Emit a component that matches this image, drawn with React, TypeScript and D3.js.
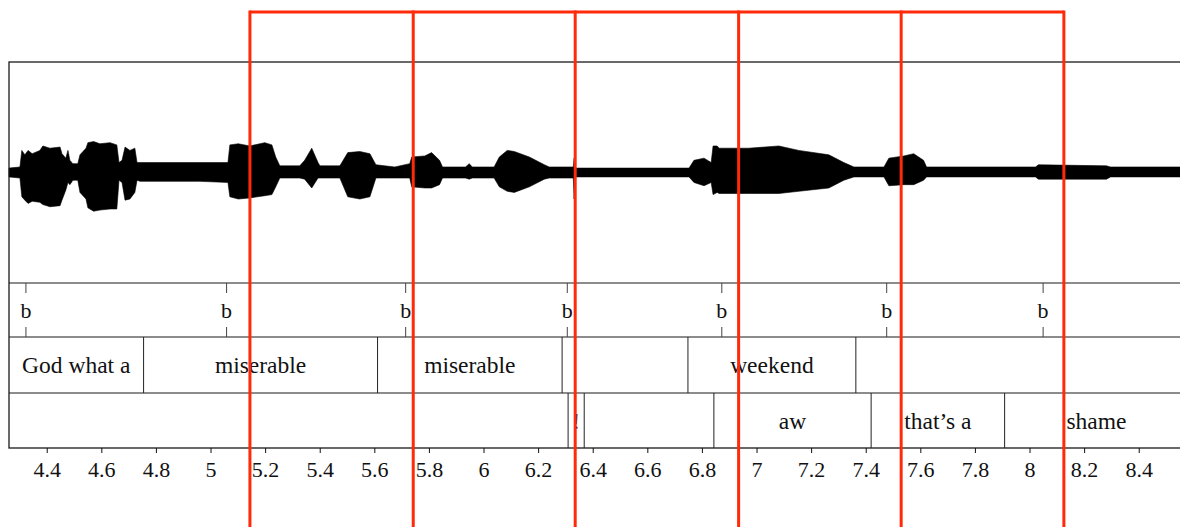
import * as d3 from 'd3';

// time range of the sound (s)
const tStart = 4.26;
const tEnd = 8.58;

// waveform envelope: time (s), upper and lower amplitude
const waveTime = [
  4.26, 4.3, 4.307, 4.318, 4.33, 4.345, 4.373, 4.384, 4.41, 4.447, 4.454, 4.468, 4.476, 4.483, 4.494, 4.512, 4.52,
  4.542, 4.549, 4.57, 4.593, 4.63, 4.655, 4.663, 4.674, 4.685, 4.703, 4.721, 4.729, 4.74, 4.959, 5.062,
  5.069, 5.1, 5.142, 5.197, 5.223, 5.237, 5.252, 5.325, 5.343, 5.369, 5.392, 5.399, 5.472, 5.501, 5.545,
  5.582, 5.604, 5.673, 5.728, 5.735, 5.783, 5.808, 5.837, 5.848, 5.932, 5.946, 5.957, 6.037, 6.056,
  6.085, 6.111, 6.166, 6.221, 6.239, 6.319, 6.327, 6.33, 6.334, 6.751, 6.769, 6.806, 6.832, 6.839,
  6.854, 6.861, 6.97, 7.08, 7.153, 7.263, 7.318, 7.355, 7.465, 7.483, 7.538, 7.574, 7.61, 7.621,
  8.02, 8.031, 8.28, 8.295, 8.58,
];
const waveUpper = [
  0.04, 0.05, 0.2, 0.16, 0.2, 0.17, 0.2, 0.24, 0.22, 0.23, 0.17, 0.13, 0.2, 0.11, 0.08, 0.08, 0.16,
  0.22, 0.27, 0.28, 0.26, 0.27, 0.25, 0.09, 0.11, 0.23, 0.2, 0.22, 0.09, 0.09, 0.09, 0.09,
  0.25, 0.26, 0.24, 0.27, 0.25, 0.14, 0.06, 0.06, 0.11, 0.22, 0.09, 0.06, 0.06, 0.18, 0.19,
  0.17, 0.07, 0.05, 0.08, 0.14, 0.15, 0.18, 0.11, 0.05, 0.05, 0.08, 0.05, 0.05, 0.14,
  0.2, 0.19, 0.14, 0.07, 0.05, 0.05, 0.05, 0.13, 0.04, 0.04, 0.11, 0.13, 0.09, 0.24,
  0.24, 0.22, 0.22, 0.24, 0.2, 0.16, 0.09, 0.05, 0.05, 0.13, 0.15, 0.17, 0.11, 0.05,
  0.05, 0.07, 0.06, 0.05, 0.05,
];
const waveLower = [
  0.04, 0.05, 0.22, 0.25, 0.28, 0.26, 0.27, 0.29, 0.31, 0.3, 0.25, 0.16, 0.09, 0.11, 0.07, 0.07, 0.18,
  0.24, 0.32, 0.35, 0.34, 0.33, 0.33, 0.07, 0.09, 0.25, 0.24, 0.18, 0.07, 0.08, 0.08, 0.09,
  0.22, 0.24, 0.23, 0.21, 0.2, 0.13, 0.05, 0.05, 0.06, 0.14, 0.05, 0.05, 0.05, 0.22, 0.24,
  0.22, 0.05, 0.05, 0.05, 0.13, 0.14, 0.14, 0.11, 0.05, 0.05, 0.06, 0.05, 0.05, 0.13,
  0.17, 0.18, 0.13, 0.06, 0.05, 0.05, 0.05, 0.24, 0.04, 0.04, 0.09, 0.12, 0.09, 0.2,
  0.18, 0.19, 0.19, 0.19, 0.17, 0.14, 0.07, 0.04, 0.04, 0.12, 0.11, 0.11, 0.07, 0.04,
  0.04, 0.06, 0.06, 0.04, 0.04,
];

// point tier
const pointTimes = [4.322, 5.057, 5.713, 6.305, 6.871, 7.475, 8.048];
const pointLabels = ['b', 'b', 'b', 'b', 'b', 'b', 'b'];

// interval tier 1 (boundaries between tStart and tEnd)
const tier1Bounds = [4.753, 5.61, 6.286, 6.747, 7.362];
const tier1Labels = ['God what a', 'miserable', 'miserable', '', 'weekend', ''];

// interval tier 2
const tier2Bounds = [6.308, 6.367, 6.842, 7.418, 7.907];
const tier2Labels = ['', '!', '', 'aw', 'that\u2019s a', 'shame'];

// red analysis windows
const windowBounds = [5.1425, 5.7407, 6.334, 6.9326, 7.528, 8.124];

const axisTicks = [4.4, 4.6, 4.8, 5, 5.2, 5.4, 5.6, 5.8, 6, 6.2, 6.4, 6.6, 6.8, 7, 7.2, 7.4, 7.6, 7.8, 8, 8.2, 8.4];

const W = 1180;
const H = 527;
const font = '"Liberation Serif", "Times New Roman", serif';

const top = 62;
const waveBottom = 283;
const tier1Top = 337;
const tier2Top = 393;
const bottom = 448;

export default function App() {
  const x = d3.scaleLinear().domain([tStart, tEnd]).range([9, 9 + (tEnd - tStart) * 273]);
  const y = d3.scaleLinear().domain([-1, 1]).range([waveBottom, top]);

  const wave = waveTime.map((t, i) => ({ t, hi: waveUpper[i], lo: -waveLower[i] }));
  const area = d3.area<{ t: number; hi: number; lo: number }>()
    .x(d => x(d.t))
    .y0(d => y(d.lo))
    .y1(d => y(d.hi));

  const intervals = (bounds: number[], labels: string[]) => {
    const edges = [tStart, ...bounds, tEnd];
    return labels.map((label, i) => ({ label, a: edges[i], b: edges[i + 1] }));
  };

  const drawTier = (bounds: number[], labels: string[], y0: number, y1: number) => (
    <g>
      {bounds.map((b, i) => (
        <line key={i} x1={x(b)} x2={x(b)} y1={y0} y2={y1} stroke="#222" strokeWidth={1} />
      ))}
      {intervals(bounds, labels).map((d, i) => (
        <text key={'t' + i} x={(x(d.a) + x(d.b)) / 2} y={(y0 + y1) / 2 + 8} textAnchor="middle"
          fontFamily={font} fontSize={23.5} fill="#111">{d.label}</text>
      ))}
    </g>
  );

  const red = '#ff2a0a';

  return (
    <svg width={W} height={H} style={{ position: 'absolute', left: 0, top: 0, background: '#fff' }}>
      {/* waveform */}
      <path d={area(wave) ?? ''} fill="#000" stroke="#000" strokeWidth={0.6} />

      {/* frame and tier separators */}
      <rect x={x(tStart)} y={top} width={x(tEnd) - x(tStart)} height={bottom - top}
        fill="none" stroke="#1a1a1a" strokeWidth={1.3} />
      {[waveBottom, tier1Top, tier2Top].map(v => (
        <line key={v} x1={x(tStart)} x2={x(tEnd)} y1={v} y2={v} stroke="#1a1a1a" strokeWidth={1.2} />
      ))}

      {/* point tier */}
      {pointTimes.map((t, i) => (
        <g key={i}>
          <line x1={x(t)} x2={x(t)} y1={waveBottom} y2={waveBottom + 10} stroke="#444" strokeWidth={1} />
          <line x1={x(t)} x2={x(t)} y1={tier1Top - 10} y2={tier1Top} stroke="#444" strokeWidth={1} />
          <text x={x(t)} y={(waveBottom + tier1Top) / 2 + 8} textAnchor="middle"
            fontFamily={font} fontSize={22} fill="#111">{pointLabels[i]}</text>
        </g>
      ))}

      {drawTier(tier1Bounds, tier1Labels, tier1Top, tier2Top)}
      {drawTier(tier2Bounds, tier2Labels, tier2Top, bottom)}

      {/* time axis */}
      <g>
        {axisTicks.map(t => (
          <g key={t} transform={`translate(${x(t)},${bottom})`}>
            <line y1={0} y2={5} stroke="#111" strokeWidth={1} />
            <text y={29} textAnchor="middle" fontFamily={font} fontSize={22} fill="#111">
              {d3.format('~g')(t)}
            </text>
          </g>
        ))}
      </g>

      {/* red windows */}
      <line x1={x(windowBounds[0])} x2={x(windowBounds[windowBounds.length - 1])} y1={12} y2={12}
        stroke={red} strokeWidth={3} />
      {windowBounds.map((t, i) => (
        <line key={i} x1={x(t)} x2={x(t)} y1={10.5} y2={H} stroke={red} strokeWidth={3} />
      ))}
    </svg>
  );
}
